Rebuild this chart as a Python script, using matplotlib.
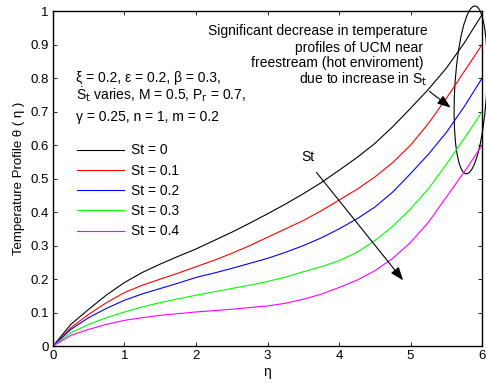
import matplotlib
matplotlib.use("Agg")
import matplotlib.pyplot as plt
from matplotlib.patches import Ellipse
from matplotlib.transforms import IdentityTransform

plt.rcParams['font.family'] = ['Liberation Sans', 'DejaVu Sans']

# eta grid and temperature profiles
eta = [0, 0.25, 0.5, 0.75, 1, 1.25, 1.5, 1.75, 2, 2.25, 2.5, 2.75, 3,
       3.25, 3.5, 3.75, 4, 4.25, 4.5, 4.75, 5, 5.25, 5.5, 5.75, 6]
theta_st0 = [0, 0.065, 0.11, 0.153, 0.19, 0.22, 0.245, 0.268, 0.29, 0.315, 0.34, 0.367, 0.395,
             0.424, 0.455, 0.488, 0.525, 0.563, 0.605, 0.655, 0.71, 0.767, 0.83, 0.905, 0.99]
theta_st1 = [0, 0.055, 0.095, 0.13, 0.16, 0.182, 0.2, 0.218, 0.237, 0.256, 0.277, 0.3, 0.325,
             0.35, 0.375, 0.404, 0.436, 0.468, 0.505, 0.548, 0.6, 0.665, 0.74, 0.82, 0.9]
theta_st2 = [0, 0.05, 0.085, 0.113, 0.137, 0.156, 0.172, 0.188, 0.205, 0.218, 0.232, 0.247, 0.262,
             0.28, 0.3, 0.323, 0.35, 0.38, 0.415, 0.46, 0.515, 0.573, 0.638, 0.715, 0.8]
theta_st3 = [0, 0.04, 0.065, 0.085, 0.102, 0.117, 0.13, 0.141, 0.152, 0.162, 0.172, 0.182, 0.193,
             0.206, 0.222, 0.237, 0.255, 0.28, 0.315, 0.358, 0.41, 0.47, 0.543, 0.62, 0.7]
theta_st4 = [0, 0.032, 0.05, 0.065, 0.077, 0.085, 0.092, 0.097, 0.102, 0.106, 0.11, 0.115, 0.12,
             0.128, 0.14, 0.155, 0.175, 0.197, 0.225, 0.262, 0.31, 0.37, 0.445, 0.52, 0.6]

series = [theta_st0, theta_st1, theta_st2, theta_st3, theta_st4]
labels = ['St = 0', 'St = 0.1', 'St = 0.2', 'St = 0.3', 'St = 0.4']
colors = ['#000000', '#ff0000', '#0000ff', '#00ff00', '#ff00ff']

fs = 10
fig = plt.figure(figsize=(4.86, 3.85), dpi=100)
ax = fig.add_axes([0.109, 0.101, 0.883, 0.870])

for y, lab, c in zip(series, labels, colors):
    ax.plot(eta, y, color=c, lw=0.8, label=lab)

ax.set_xlim(0, 6)
ax.set_ylim(0, 1)
ax.set_xticks(range(0, 7))
ax.set_yticks([i / 10 for i in range(11)])
ax.set_yticklabels(['0', '0.1', '0.2', '0.3', '0.4', '0.5', '0.6', '0.7', '0.8', '0.9', '1'])
ax.tick_params(direction='in', top=True, right=True, labelsize=9.5, length=3, width=0.6, pad=3)
for s in ax.spines.values():
    s.set_linewidth(1.0)

ax.set_xlabel('η', fontsize=fs, labelpad=2)
ax.set_ylabel('Temperature Profile θ ( η )', fontsize=9.5, labelpad=4)

ax.legend(loc='upper left', bbox_to_anchor=(0.056, 0.605), frameon=False, fontsize=fs,
          handlelength=3.4, handletextpad=0.5, labelspacing=0.45, borderaxespad=0, borderpad=0)

# parameter block
ax.text(0.32, 0.80, 'ξ = 0.2, ε = 0.2, β = 0.3,', fontsize=fs, va='center', ha='left')
ax.text(0.32, 0.752, 'Ṡ$_{\\rm t}$ varies, M = 0.5, P$_{\\rm r}$ = 0.7,', fontsize=fs, va='center', ha='left')
ax.text(0.32, 0.684, 'γ = 0.25, n = 1, m = 0.2', fontsize=fs, va='center', ha='left')

# note on the right
ax.text(5.245, 0.94, 'Significant decrease in temperature', fontsize=fs, va='center', ha='right')
ax.text(5.175, 0.89, 'profiles of UCM near', fontsize=fs, va='center', ha='right')
ax.text(5.175, 0.845, 'freestream (hot enviroment)', fontsize=fs, va='center', ha='right')
ax.text(5.23, 0.798, 'due to increase in S$_{\\rm t}$', fontsize=fs, va='center', ha='right')

ax.annotate('', xy=(5.59, 0.707), xytext=(5.23, 0.766),
            arrowprops=dict(arrowstyle='-|>,head_length=0.8,head_width=0.3', color='k', lw=0.8))

# tilted ellipse, drawn in pixels
cx, cy = ax.transData.transform((5.84, 0.765))
ax.add_patch(Ellipse((cx, cy), 32, 168, angle=-3, fill=False, ec='k', lw=0.8,
                     clip_on=False, transform=IdentityTransform()))

ax.text(3.57, 0.545, 'St', fontsize=fs, ha='center', va='bottom')
ax.annotate('', xy=(4.92, 0.19), xytext=(3.66, 0.525),
            arrowprops=dict(arrowstyle='-|>,head_length=0.8,head_width=0.3', color='k', lw=0.8))

fig.savefig('out.png', dpi=100)
